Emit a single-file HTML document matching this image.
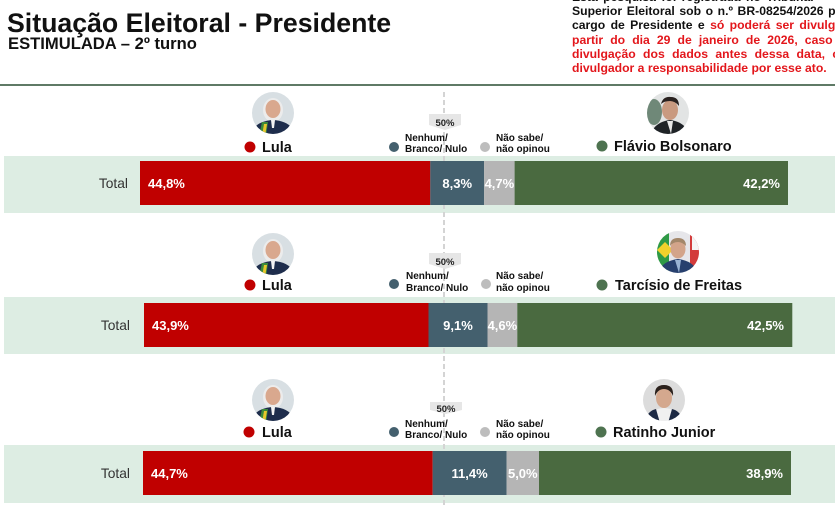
<!DOCTYPE html>
<html><head><meta charset="utf-8"><style>
html,body{margin:0;padding:0;background:#fff;overflow:hidden;width:835px;height:517px}
svg{display:block;font-family:"Liberation Sans",Arial,sans-serif}
</style></head><body>
<svg width="835" height="517" viewBox="0 0 835 517" xmlns="http://www.w3.org/2000/svg">
<defs>
<clipPath id="c1"><circle cx="273" cy="113" r="21"/></clipPath>
<clipPath id="c2"><circle cx="668" cy="113" r="21"/></clipPath>
<clipPath id="c3"><circle cx="273" cy="254" r="21"/></clipPath>
<clipPath id="c4"><circle cx="678" cy="252" r="21"/></clipPath>
<clipPath id="c5"><circle cx="273" cy="400" r="21"/></clipPath>
<clipPath id="c6"><circle cx="664" cy="400" r="21"/></clipPath>
</defs>

<!-- Header -->
<text x="7" y="32" font-size="26.7" font-weight="bold" fill="#111">Situação Eleitoral - Presidente</text>
<text x="8" y="49" font-size="16.6" font-weight="bold" fill="#111">ESTIMULADA – 2º turno</text>

<g font-size="12.2" font-weight="bold" fill="#111">
<text x="572" y="1" style="word-spacing:2px">Esta pesquisa foi registrada no Tribunal</text>
<text x="572" y="15" style="word-spacing:1.2px">Superior Eleitoral sob o n.º BR-08254/2026 para o</text>
<text x="572" y="29" style="word-spacing:2px">cargo de Presidente e <tspan fill="#e3161b">só poderá ser divulgada a</tspan></text>
<text x="572" y="44" fill="#e3161b" style="word-spacing:3.7px">partir do dia 29 de janeiro de 2026, caso haja</text>
<text x="572" y="58" fill="#e3161b" style="word-spacing:4px">divulgação dos dados antes dessa data, cabe ao</text>
<text x="572" y="72" fill="#e3161b">divulgador a responsabilidade por esse ato.</text>
</g>
<rect x="0" y="84" width="835" height="2" fill="#5f7a66"/>

<!-- Bands -->
<rect x="4" y="156" width="831" height="57" fill="#ddede3"/>
<rect x="4" y="297" width="831" height="57" fill="#ddede3"/>
<rect x="4" y="445" width="831" height="58" fill="#ddede3"/>

<!-- dashed 50% line -->
<line x1="444" y1="92" x2="444" y2="508" stroke="#d4d4d4" stroke-width="2" stroke-dasharray="5,3"/>

<!-- ROW 1 -->
<g clip-path="url(#c1)">
<rect x="250" y="90" width="46" height="46" fill="#d8dfe3"/>
<ellipse cx="273" cy="110" rx="10" ry="12" fill="#ececec"/>
<ellipse cx="273" cy="109" rx="7.5" ry="9" fill="#d9a88e"/>
<path d="M250 136 Q254 121 273 120 Q292 121 296 136 Z" fill="#1e2d4c"/>
<path d="M262 122 L268 122 L266 136 L259 136 Z" fill="#3c8a3a"/>
<path d="M264 124 L267 124 L265 136 L262 136 Z" fill="#e8c72c"/>
<path d="M271 120 L275 120 L274 128 L272 128 Z" fill="#f2f2f2"/>
</g>
<g clip-path="url(#c2)">
<rect x="645" y="90" width="46" height="46" fill="#e2e4e4"/>
<ellipse cx="654" cy="112" rx="8" ry="13" fill="#6f8878"/>
<ellipse cx="670" cy="110" rx="8" ry="10" fill="#c99a80"/>
<path d="M661 104 Q663 96 671 97 Q679 97 679 106 Q675 101 670 101 Q664 101 661 104 Z" fill="#2a2220"/>
<path d="M650 136 Q654 122 670 120 Q686 122 690 136 Z" fill="#1f2327"/>
<path d="M667 121 L673 121 L671 134 Z" fill="#e8e8e8"/>
</g>
<circle cx="250" cy="147" r="5.5" fill="#c00000"/>
<text x="262" y="152" font-size="14.5" font-weight="bold" fill="#111">Lula</text>
<path d="M429 114 H461 V125 L445 130 L429 125 Z" fill="#e6e6e6"/>
<text x="445" y="126" font-size="9.5" font-weight="bold" fill="#222" text-anchor="middle">50%</text>
<circle cx="394" cy="147" r="5" fill="#44606e"/>
<text x="405" y="141" font-size="10" font-weight="bold" fill="#111">Nenhum/</text>
<text x="405" y="152" font-size="10" font-weight="bold" fill="#111">Branco/ Nulo</text>
<circle cx="485" cy="147" r="5" fill="#bdbdbd"/>
<text x="496" y="141" font-size="10" font-weight="bold" fill="#111">Não sabe/</text>
<text x="496" y="152" font-size="10" font-weight="bold" fill="#111">não opinou</text>
<circle cx="602" cy="146" r="5.5" fill="#4e7350"/>
<text x="614" y="151" font-size="14.5" font-weight="bold" fill="#111">Flávio Bolsonaro</text>

<text x="128" y="188" font-size="13.8" fill="#333" text-anchor="end">Total</text>
<rect x="140" y="161" width="290.3" height="44" fill="#c00000"/>
<rect x="430.3" y="161" width="53.8" height="44" fill="#44606e"/>
<rect x="484.1" y="161" width="30.5" height="44" fill="#b5b5b5"/>
<rect x="514.6" y="161" width="273.4" height="44" fill="#4a6a40"/>
<g font-size="13" font-weight="bold" fill="#fff">
<text x="148" y="188">44,8%</text>
<text x="457.2" y="188" text-anchor="middle">8,3%</text>
<text x="499.4" y="188" text-anchor="middle">4,7%</text>
<text x="780" y="188" text-anchor="end">42,2%</text>
</g>

<!-- ROW 2 -->
<g clip-path="url(#c3)">
<rect x="250" y="231" width="46" height="46" fill="#d8dfe3"/>
<ellipse cx="273" cy="251" rx="10" ry="12" fill="#ececec"/>
<ellipse cx="273" cy="250" rx="7.5" ry="9" fill="#d9a88e"/>
<path d="M250 277 Q254 262 273 261 Q292 262 296 277 Z" fill="#1e2d4c"/>
<path d="M262 263 L268 263 L266 277 L259 277 Z" fill="#3c8a3a"/>
<path d="M264 265 L267 265 L265 277 L262 277 Z" fill="#e8c72c"/>
<path d="M271 261 L275 261 L274 269 L272 269 Z" fill="#f2f2f2"/>
</g>
<g clip-path="url(#c4)">
<rect x="655" y="229" width="46" height="46" fill="#e6e6ea"/>
<rect x="655" y="229" width="14" height="46" fill="#2f9a46"/>
<path d="M657 250 L665 242 L673 250 L665 258 Z" fill="#f2d12c"/>
<rect x="690" y="229" width="11" height="46" fill="#d33b3b"/>
<rect x="692" y="236" width="7" height="14" fill="#f4f4f4"/>
<ellipse cx="678" cy="249" rx="7.5" ry="9.5" fill="#d3a48a"/>
<path d="M670 246 Q670 238 678 238 Q686 238 686 246 Q682 242 678 242 Q673 242 670 246 Z" fill="#a3876a"/>
<path d="M657 275 Q661 261 678 259 Q695 261 699 275 Z" fill="#27406e"/>
<path d="M675 260 L681 260 L679 273 Z" fill="#9ab3d4"/>
</g>
<circle cx="250" cy="285" r="5.5" fill="#c00000"/>
<text x="262" y="290" font-size="14.5" font-weight="bold" fill="#111">Lula</text>
<path d="M429 253 H461 V264 L445 269 L429 264 Z" fill="#e6e6e6"/>
<text x="445" y="265" font-size="9.5" font-weight="bold" fill="#222" text-anchor="middle">50%</text>
<circle cx="394" cy="284" r="5" fill="#44606e"/>
<text x="406" y="279" font-size="10" font-weight="bold" fill="#111">Nenhum/</text>
<text x="406" y="291" font-size="10" font-weight="bold" fill="#111">Branco/ Nulo</text>
<circle cx="486" cy="284" r="5" fill="#bdbdbd"/>
<text x="496" y="279" font-size="10" font-weight="bold" fill="#111">Não sabe/</text>
<text x="496" y="291" font-size="10" font-weight="bold" fill="#111">não opinou</text>
<circle cx="602" cy="285" r="5.5" fill="#4e7350"/>
<text x="615" y="290" font-size="14.5" font-weight="bold" fill="#111">Tarcísio de Freitas</text>

<text x="130" y="330" font-size="13.8" fill="#333" text-anchor="end">Total</text>
<rect x="144" y="303" width="284.5" height="44" fill="#c00000"/>
<rect x="428.5" y="303" width="59" height="44" fill="#44606e"/>
<rect x="487.5" y="303" width="29.8" height="44" fill="#b5b5b5"/>
<rect x="517.3" y="303" width="275" height="44" fill="#4a6a40"/>
<g font-size="13" font-weight="bold" fill="#fff">
<text x="152" y="330">43,9%</text>
<text x="458" y="330" text-anchor="middle">9,1%</text>
<text x="502.4" y="330" text-anchor="middle">4,6%</text>
<text x="784" y="330" text-anchor="end">42,5%</text>
</g>

<!-- ROW 3 -->
<g clip-path="url(#c5)">
<rect x="250" y="377" width="46" height="46" fill="#d8dfe3"/>
<ellipse cx="273" cy="397" rx="10" ry="12" fill="#ececec"/>
<ellipse cx="273" cy="396" rx="7.5" ry="9" fill="#d9a88e"/>
<path d="M250 423 Q254 408 273 407 Q292 408 296 423 Z" fill="#1e2d4c"/>
<path d="M262 409 L268 409 L266 423 L259 423 Z" fill="#3c8a3a"/>
<path d="M264 411 L267 411 L265 423 L262 423 Z" fill="#e8c72c"/>
<path d="M271 407 L275 407 L274 415 L272 415 Z" fill="#f2f2f2"/>
</g>
<g clip-path="url(#c6)">
<rect x="641" y="377" width="46" height="46" fill="#dcdcdc"/>
<ellipse cx="664" cy="398" rx="8" ry="10" fill="#d4a88e"/>
<path d="M655 396 Q654 385 664 385 Q674 385 673 396 Q670 389 664 389 Q658 389 655 396 Z" fill="#2b211c"/>
<path d="M644 423 Q648 409 664 408 Q680 409 684 423 Z" fill="#f0f0f0"/>
<path d="M644 423 Q647 411 656 409 L660 423 Z" fill="#1d2a44"/>
<path d="M684 423 Q681 411 672 409 L668 423 Z" fill="#1d2a44"/>
</g>
<circle cx="249" cy="432" r="5.5" fill="#c00000"/>
<text x="262" y="437" font-size="14.5" font-weight="bold" fill="#111">Lula</text>
<path d="M430 402 H462 V410 L446 414 L430 410 Z" fill="#e6e6e6"/>
<text x="446" y="412" font-size="9.5" font-weight="bold" fill="#222" text-anchor="middle">50%</text>
<circle cx="394" cy="432" r="5" fill="#44606e"/>
<text x="405" y="427" font-size="10" font-weight="bold" fill="#111">Nenhum/</text>
<text x="405" y="438" font-size="10" font-weight="bold" fill="#111">Branco/ Nulo</text>
<circle cx="485" cy="432" r="5" fill="#bdbdbd"/>
<text x="496" y="427" font-size="10" font-weight="bold" fill="#111">Não sabe/</text>
<text x="496" y="438" font-size="10" font-weight="bold" fill="#111">não opinou</text>
<circle cx="601" cy="432" r="5.5" fill="#4e7350"/>
<text x="613" y="437" font-size="14.5" font-weight="bold" fill="#111">Ratinho Junior</text>

<text x="130" y="478" font-size="13.8" fill="#333" text-anchor="end">Total</text>
<rect x="143" y="451" width="289.7" height="44" fill="#c00000"/>
<rect x="432.7" y="451" width="73.9" height="44" fill="#44606e"/>
<rect x="506.6" y="451" width="32.4" height="44" fill="#b5b5b5"/>
<rect x="539" y="451" width="252" height="44" fill="#4a6a40"/>
<g font-size="13" font-weight="bold" fill="#fff">
<text x="151" y="478">44,7%</text>
<text x="469.6" y="478" text-anchor="middle">11,4%</text>
<text x="522.8" y="478" text-anchor="middle">5,0%</text>
<text x="783" y="478" text-anchor="end">38,9%</text>
</g>
</svg>
</body></html>
